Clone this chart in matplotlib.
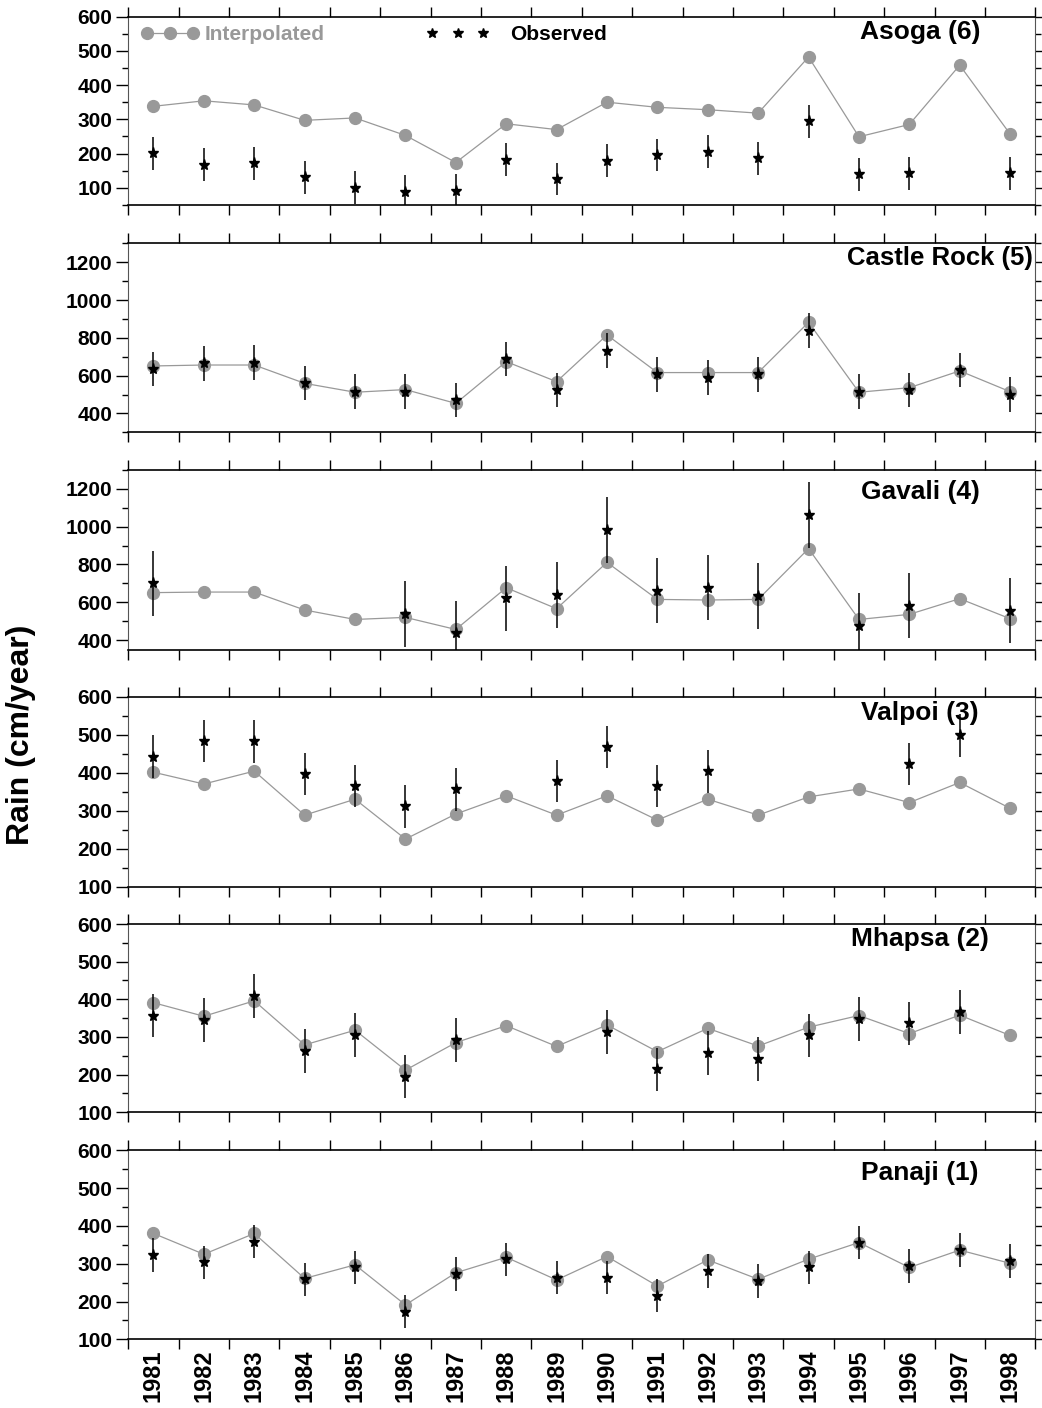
import numpy as np
import matplotlib.pyplot as plt
from matplotlib.lines import Line2D
from matplotlib.ticker import MultipleLocator, FixedLocator

plt.rcParams['font.family'] = ['Liberation Sans', 'DejaVu Sans']
plt.rcParams['font.weight'] = 'bold'

nan = np.nan
years = np.arange(1981, 1999)

# interpolated (grey circles) and observed (black stars) annual rain, cm/year
asoga_interp = [338, 354, 342, 297, 304, 253, 174, 287, 270, 350, 335, 328, 318, 482, 249, 285, 458, 257]
asoga_obs = [201, 167, 172, 131, 100, 89, 92, 182, 126, 179, 196, 206, 186, 294, 140, 142, nan, 142]

castle_interp = [651, 656, 656, 559, 512, 526, 453, 674, 568, 815, 616, 616, 616, 882, 512, 536, 625, 515]
castle_obs = [635, 665, 669, 561, 515, 515, 471, 688, 524, 732, 607, 589, 607, 838, 515, 524, 630, 498]

gavali_interp = [651, 654, 654, 559, 509, 520, 456, 677, 566, 811, 615, 612, 615, 884, 509, 536, 619, 513]
gavali_obs = [700, nan, nan, nan, nan, 537, 435, 620, 638, 983, 661, 677, 633, 1062, 476, 582, nan, 555]

valpoi_interp = [401, 370, 404, 288, 330, 225, 291, 339, 288, 339, 275, 330, 288, 336, 357, 321, 374, 306]
valpoi_obs = [442, 483, 482, 396, 365, 311, 356, nan, 378, 467, 365, 403, nan, nan, nan, 423, 498, nan]

mhapsa_interp = [391, 355, 396, 279, 318, 212, 285, 330, 275, 332, 261, 323, 276, 326, 357, 309, 358, 304]
mhapsa_obs = [357, 345, 409, 263, 305, 195, 292, nan, nan, 314, 214, 257, 241, 304, 347, 336, 367, nan]

panaji_interp = [380, 325, 380, 261, 297, 191, 276, 317, 257, 319, 241, 310, 259, 312, 356, 290, 336, 301]
panaji_obs = [323, 304, 358, 259, 290, 173, 273, 312, 263, 263, 215, 281, 254, 290, 356, 294, 336, 307]

stations = ['Asoga (6)', 'Castle Rock (5)', 'Gavali (4)', 'Valpoi (3)', 'Mhapsa (2)', 'Panaji (1)']
interp = [asoga_interp, castle_interp, gavali_interp, valpoi_interp, mhapsa_interp, panaji_interp]
obs = [asoga_obs, castle_obs, gavali_obs, valpoi_obs, mhapsa_obs, panaji_obs]
errs = [48, 92, 173, 56, 58, 44]
ylims = [(50, 600), (300, 1300), (350, 1300), (100, 600), (100, 600), (100, 600)]
ymajor = [100, 200, 200, 100, 100, 100]
yminor = [50, 100, 100, 50, 50, 50]

# layout in pixels
W, H = 1042, 1408
x0, x1 = 128.3, 1035.3
boxes = [(16.5, 205), (243.3, 432.3), (470, 649.5), (696.7, 886.5), (924, 1112.3), (1150.3, 1339.3)]
title_dy = [15, 14.4, 21.7, 16.6, 15, 23]

gray = '#999999'
fig = plt.figure(figsize=(W / 100, H / 100), dpi=100)

for i in range(6):
    top, bot = boxes[i]
    ax = fig.add_axes([x0 / W, 1 - bot / H, (x1 - x0) / W, (bot - top) / H])
    ax.plot(years, interp[i], '-', color=gray, lw=0.9, marker='o', ms=8.5,
            mfc=gray, mec=gray, zorder=2)
    ax.errorbar(years, obs[i], yerr=errs[i], fmt='*', color='black', ms=8,
                elinewidth=1.1, capsize=0, zorder=3)
    ax.set_xlim(1980.5, 1998.5)
    ax.set_ylim(*ylims[i])

    ax.xaxis.set_major_locator(FixedLocator(np.arange(1980.5, 1999, 1)))
    ax.xaxis.set_minor_locator(FixedLocator(years))
    ax.tick_params(axis='x', which='major', direction='out', length=7, width=1,
                   top=True, bottom=True, labelbottom=False)
    ax.tick_params(axis='x', which='minor', length=0, top=False, bottom=True)
    if i == 5:
        ax.set_xticklabels([str(y) for y in years], minor=True, rotation=90,
                           fontsize=17, fontweight='bold')
        ax.tick_params(axis='x', which='minor', pad=7)
    else:
        ax.tick_params(axis='x', which='minor', labelbottom=False)

    ax.yaxis.set_major_locator(MultipleLocator(ymajor[i]))
    ax.yaxis.set_minor_locator(MultipleLocator(yminor[i]))
    ax.tick_params(axis='y', which='major', direction='out', length=8.6, width=1,
                   right=True, labelsize=15, pad=3)
    ax.tick_params(axis='y', which='minor', direction='out', length=4, width=1, right=True)
    for lab in ax.get_yticklabels():
        lab.set_fontweight('bold')

    for side in ['left', 'right']:
        ax.spines[side].set_color('#555555')
    for side in ['top', 'bottom']:
        ax.spines[side].set_linewidth(1.2)

    h = bot - top
    if i == 1:
        ax.text((1033 - x0) / (x1 - x0), 1 - title_dy[i] / h, stations[i], transform=ax.transAxes,
                ha='right', va='center', fontsize=18.5, fontweight='bold')
    else:
        ax.text((920 - x0) / (x1 - x0), 1 - title_dy[i] / h, stations[i], transform=ax.transAxes,
                ha='center', va='center', fontsize=19, fontweight='bold')

    if i == 0:
        h_int = Line2D([], [], color=gray, lw=0.9, marker='o', ms=8.5, mfc=gray, mec=gray)
        h_obs = Line2D([], [], ls='none', color='black', marker='*', ms=7)
        ly = 1 - (35 - top) / h
        leg1 = ax.legend([h_int], ['Interpolated'], loc='center left',
                         bbox_to_anchor=((140.75 - x0) / (x1 - x0), ly), numpoints=3,
                         frameon=False, borderpad=0, borderaxespad=0, handlelength=2.8,
                         handletextpad=0.28, prop=dict(size=15, weight='bold'), labelcolor=gray)
        ax.add_artist(leg1)
        ax.legend([h_obs], ['Observed'], loc='center left',
                  bbox_to_anchor=((425.75 - x0) / (x1 - x0), ly), numpoints=3,
                  frameon=False, borderpad=0, borderaxespad=0, handlelength=3.05,
                  handletextpad=1.0, prop=dict(size=15, weight='bold'))

fig.text(21 / W, 1 - 735 / H, 'Rain (cm/year)', rotation=90, ha='center', va='center',
         fontsize=23, fontweight='bold')

fig.savefig('out.png', dpi=100)
